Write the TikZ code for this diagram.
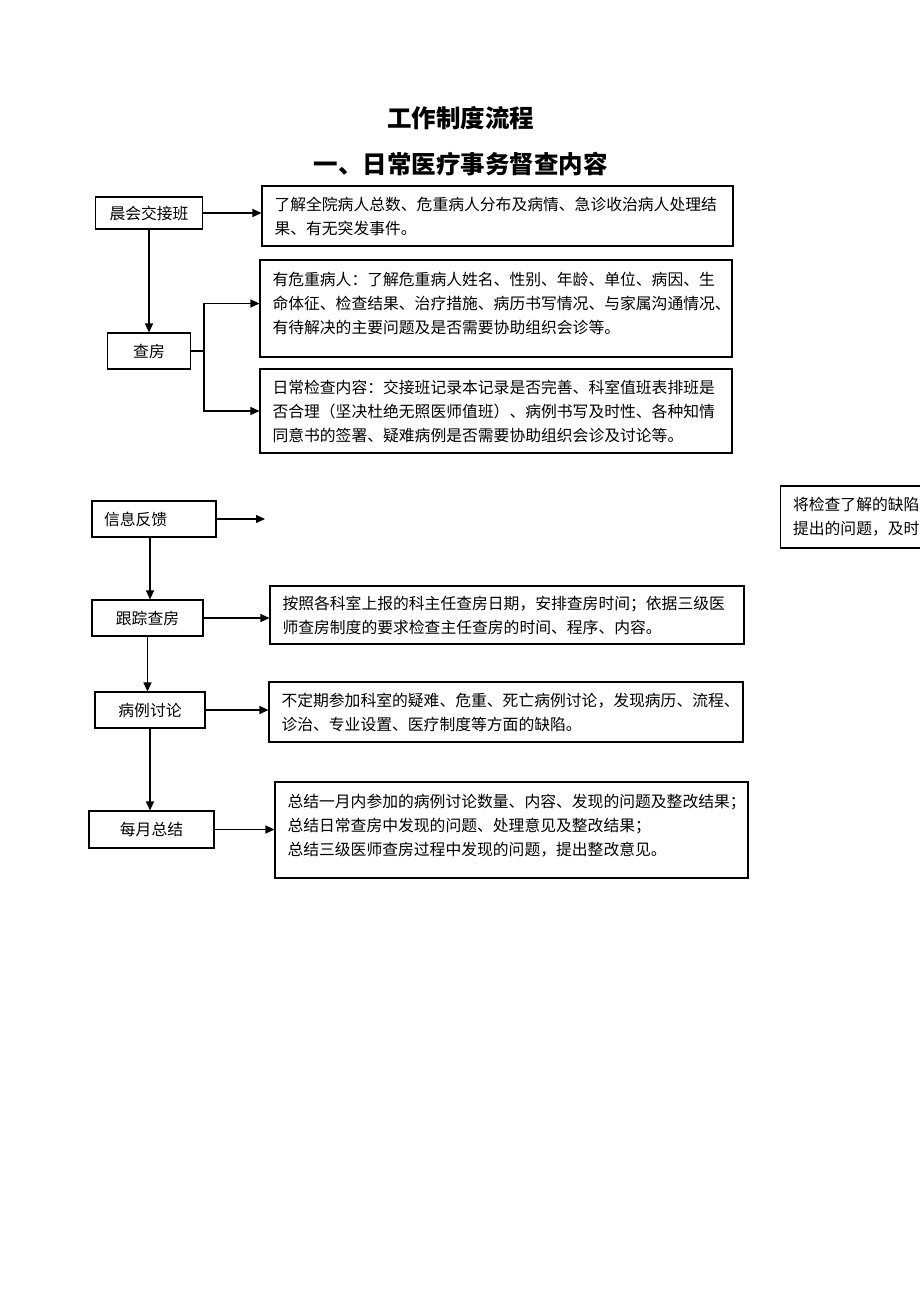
\documentclass[tikz,border=0pt]{standalone}
\usepackage{fontspec}
\setmainfont{Noto Sans CJK SC}
\usetikzlibrary{arrows.meta}

\newcommand{\boxfont}{\fontsize{15.8}{24}\selectfont}
\newcommand{\headfont}{\fontsize{24.5}{28}\selectfont\bfseries}
\newcommand{\lowstrut}{\rule[-11pt]{0pt}{11pt}}

\tikzset{
  stepbox/.style={draw, line width=1.1pt, minimum height=36pt, inner sep=0pt, font=\boxfont},
  infobox/.style={draw, line width=1.1pt, inner xsep=12.5pt, inner ysep=0pt, align=left, font=\boxfont},
  link/.style={line width=1.1pt, -{Triangle[length=9pt,width=8pt]}},
  plain/.style={line width=1.1pt}
}

\begin{document}
\begin{tikzpicture}[x=1pt, y=-1pt]
  \useasboundingbox (0,0) rectangle (920,1302);
  \clip (0,0) rectangle (920,1302);

  % Headings
  \node[font=\headfont] (title) at (460.5,118) {工作制度流程};
  \node[font=\headfont] (subtitle) at (460.5,164) {一、日常医疗事务督查内容};

  % Left column
  \node[stepbox, minimum width=107pt, minimum height=32pt] (chenhui) at (149,213) {晨会交接班};
  \node[stepbox, minimum width=83pt] (chafang) at (149,351) {查房};
  \node[stepbox, minimum width=124pt, inner xsep=12pt, text width=100pt, align=left] (xinxi) at (154,519) {信息反馈};
  \node[stepbox, minimum width=111pt] (genzong) at (147.5,618) {跟踪查房};
  \node[stepbox, minimum width=110pt] (bingli) at (150,710) {病例讨论};
  \node[stepbox, minimum width=125pt, minimum height=37pt] (meiyue) at (151.5,829.5) {每月总结};

  % Content boxes
  \node[infobox, text width=446pt, minimum height=60pt] (box1) at (497.5,216) {%
    了解全院病人总数、危重病人分布及病情、急诊收治病人处理结\\
    果、有无突发事件。};
  \node[infobox, text width=447pt, minimum height=97pt] (box2) at (496,308.5) {%
    有危重病人：了解危重病人姓名、性别、年龄、单位、病因、生\\
    命体征、检查结果、治疗措施、病历书写情况、与家属沟通情况、\\
    有待解决的主要问题及是否需要协助组织会诊等。\lowstrut};
  \node[infobox, text width=447pt, minimum height=84pt] (box3) at (496,411) {%
    日常检查内容：交接班记录本记录是否完善、科室值班表排班是\\
    否合理（坚决杜绝无照医师值班）、病例书写及时性、各种知情\\
    同意书的签署、疑难病例是否需要协助组织会诊及讨论等。};
  \node[infobox, text width=250pt, minimum height=62pt, anchor=west] (boxr) at (780,517) {%
    将检查了解的缺陷\\
    提出的问题，及时};
  \node[infobox, text width=449pt, minimum height=58pt] (box4) at (507,615) {%
    按照各科室上报的科主任查房日期，安排查房时间；依据三级医\\
    师查房制度的要求检查主任查房的时间、程序、内容。};
  \node[infobox, text width=449pt, minimum height=60pt] (box5) at (506,712) {%
    不定期参加科室的疑难、危重、死亡病例讨论，发现病历、流程、\\
    诊治、专业设置、医疗制度等方面的缺陷。};
  \node[infobox, text width=448pt, minimum height=96pt] (box6) at (511.5,830) {%
    总结一月内参加的病例讨论数量、内容、发现的问题及整改结果；\\
    总结日常查房中发现的问题、处理意见及整改结果；\\
    总结三级医师查房过程中发现的问题，提出整改意见。\lowstrut};

  % Connectors
  \draw[link] (chenhui.east) -- (chenhui.east -| box1.west);
  \draw[link] (chenhui.south) -- (chafang.north);
  \coordinate (fork) at (204,351);
  \draw[plain] (chafang.east) -- (fork);
  \draw[link] (fork) |- ([yshift=5pt]box2.west);
  \draw[link] (fork) |- (box3.west);
  \coordinate (feedend) at (265,519);
  \draw[link] (xinxi.east) -- (feedend);
  \coordinate (feeddrop) at (xinxi.south -| bingli.north);
  \draw[link] (feeddrop) -- (feeddrop |- genzong.north);
  \draw[link] (genzong.east) -- (genzong.east -| box4.west);
  \draw[link] (genzong.south) -- (genzong.south |- bingli.north);
  \draw[link] (bingli.east) -- (bingli.east -| box5.west);
  \draw[link] (bingli.south) -- (bingli.south |- meiyue.north);
  \draw[link] (meiyue.east) -- (meiyue.east -| box6.west);
\end{tikzpicture}
\end{document}
